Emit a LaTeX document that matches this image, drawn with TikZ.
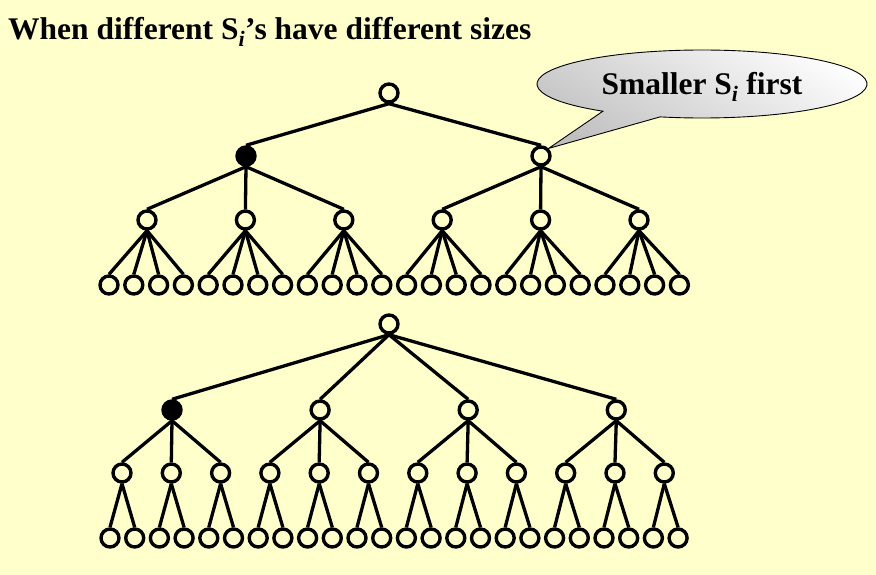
\documentclass[tikz,border=0pt]{standalone}
\usepackage{fontspec}
\setmainfont{Liberation Serif}
\usetikzlibrary{calc}
\definecolor{paper}{RGB}{255,255,204}

\begin{document}
\begin{tikzpicture}[x=1pt,y=-1pt,
        vert/.style = {circle, draw, line width=3.4pt, fill=paper, minimum size=18pt, inner sep=0pt},
        full/.style = {vert, fill=black},
        edge/.style = {line width=3.3pt}]
        % Background
        \fill[paper] (0,0) rectangle (876,575);
        \useasboundingbox (0,0) rectangle (876,575);

        % Title
        \node[anchor=base west, inner sep=0pt, font=\bfseries\fontsize{31.5}{33}\selectfont] (title) at (8,40) {When different S\textsubscript{\textit{i}}’s have different sizes};

        % Upper tree
        \node[vert] (troot) at (389,93) {};
        \node[full] (tl0) at (246,156) {};
        \node[vert] (tl1) at (541,156) {};
        \foreach \j in {0,...,5}
          \node[vert] (tm\j) at (147+98.4*\j,220) {};
        \foreach \k in {0,...,23}
          \node[vert] (tleaf\k) at (109+24.8*\k,285) {};
        \foreach \i in {0,1}
          \draw[edge] (troot.south) -- (tl\i.north);
        \foreach \j in {0,...,5} {
          \pgfmathtruncatemacro\up{int(\j/3)}
          \draw[edge] (tl\up.south) -- (tm\j.north);
        }
        \foreach \k in {0,...,23} {
          \pgfmathtruncatemacro\up{int(\k/4)}
          \draw[edge] (tm\up.south) -- (tleaf\k.north);
        }

        % Lower tree
        \node[vert] (broot) at (389,324) {};
        \node[full] (bl0) at (172,410) {};
        \foreach \i in {1,2,3}
          \node[vert] (bl\i) at (172+148.1*\i,410) {};
        \foreach \j in {0,...,11}
          \node[vert] (bm\j) at (122+49.3*\j,473) {};
        \foreach \k in {0,...,23}
          \node[vert] (bleaf\k) at (110+24.7*\k,538) {};
        \foreach \i in {0,...,3}
          \draw[edge] (broot.south) -- (bl\i.north);
        \foreach \j in {0,...,11} {
          \pgfmathtruncatemacro\up{int(\j/3)}
          \draw[edge] (bl\up.south) -- (bm\j.north);
        }
        \foreach \k in {0,...,23} {
          \pgfmathtruncatemacro\up{int(\k/2)}
          \draw[edge] (bm\up.south) -- (bleaf\k.north);
        }

        % Callout
        \coordinate (bubblec) at (702,84);
        \draw[line width=0.9pt, top color=white, bottom color=black!25, shading angle=-30]
          (tl1.45) -- ($(bubblec)+(126.9:165 and 34)$)
          arc[start angle=126.9, end angle=464.7, x radius=165, y radius=34] -- cycle;
        \node[font=\bfseries\fontsize{31.5}{33}\selectfont] (bubble) at ($(bubblec)+(0,3)$) {Smaller S\textsubscript{\textit{i}} first};
    \end{tikzpicture}
\end{document}
